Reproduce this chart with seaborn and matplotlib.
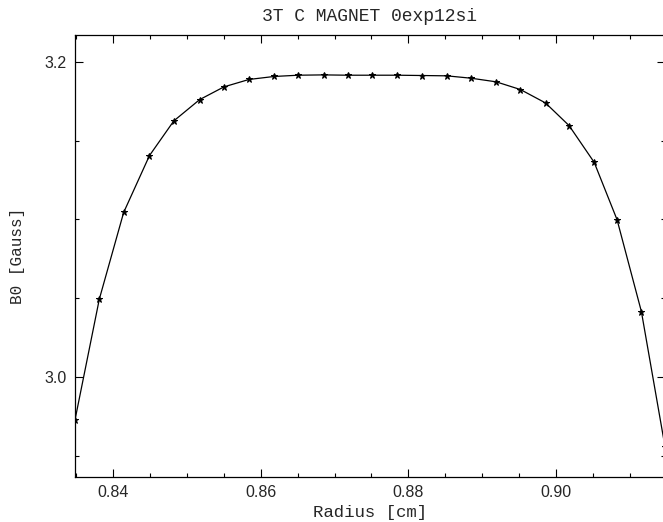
import numpy as np
import pandas as pd
import seaborn as sns
import matplotlib.pyplot as plt
from matplotlib.ticker import MultipleLocator

# values
radius = [0.8348, 0.8381, 0.8414, 0.8449, 0.8482, 0.8517, 0.8550, 0.8584, 0.8618,
          0.8651, 0.8685, 0.8718, 0.8751, 0.8785, 0.8819, 0.8852, 0.8885, 0.8919,
          0.8952, 0.8986, 0.9018, 0.9052, 0.9083, 0.9116, 0.9148]
b0 = [2.9727, 3.0494, 3.1044, 3.1405, 3.1625, 3.1760, 3.1841, 3.1888, 3.1907,
      3.1915, 3.1917, 3.1915, 3.1915, 3.1915, 3.1913, 3.1911, 3.1896, 3.1873,
      3.1824, 3.1739, 3.1595, 3.1362, 3.0998, 3.0415, 2.9558]

title = "3T C MAGNET 0exp12si"
xlabel = "Radius [cm]"
ylabel = "B0 [Gauss]"


def create_plot(df, save_to="out.png"):
    sns.set_style("ticks")
    plt.rcParams['font.family'] = ['Liberation Mono', 'DejaVu Sans Mono']

    fig = plt.figure(figsize=(6.63, 5.22), dpi=100)
    ax = fig.add_axes([0.1131, 0.0862, 0.8899, 0.8467])

    sns.lineplot(data=df, x="radius", y="b0", color="black", linewidth=0.9,
                 marker="*", markersize=5, markeredgecolor="black", ax=ax)

    ax.set_xlim(0.8348, 0.9148)
    ax.set_ylim(2.9365, 3.217)

    ax.xaxis.set_major_locator(MultipleLocator(0.02))
    ax.xaxis.set_minor_locator(MultipleLocator(0.005))
    ax.yaxis.set_major_locator(MultipleLocator(0.2))
    ax.yaxis.set_minor_locator(MultipleLocator(0.05))
    ax.xaxis.set_major_formatter(plt.FormatStrFormatter('%.2f'))
    ax.yaxis.set_major_formatter(plt.FormatStrFormatter('%.1f'))

    ax.tick_params(which="both", direction="in", top=True, right=True,
                   color="black", width=0.8)
    ax.tick_params(which="major", length=6, labelsize=11.5, pad=6)
    ax.tick_params(which="minor", length=3)
    for lab in ax.get_xticklabels() + ax.get_yticklabels():
        lab.set_family(['Liberation Sans', 'DejaVu Sans'])

    for sp in ax.spines.values():
        sp.set_visible(True)
        sp.set_linewidth(0.9)
        sp.set_color("black")

    ax.set_xlabel(xlabel, fontsize=12.5, labelpad=3)
    ax.set_ylabel(ylabel, fontsize=11.5, labelpad=14)
    ax.set_title(title, fontsize=13, pad=10)

    fig.savefig(save_to, dpi=100)


def main():
    df = pd.DataFrame({"radius": radius, "b0": b0})
    create_plot(df)


if __name__ == "__main__":
    main()
